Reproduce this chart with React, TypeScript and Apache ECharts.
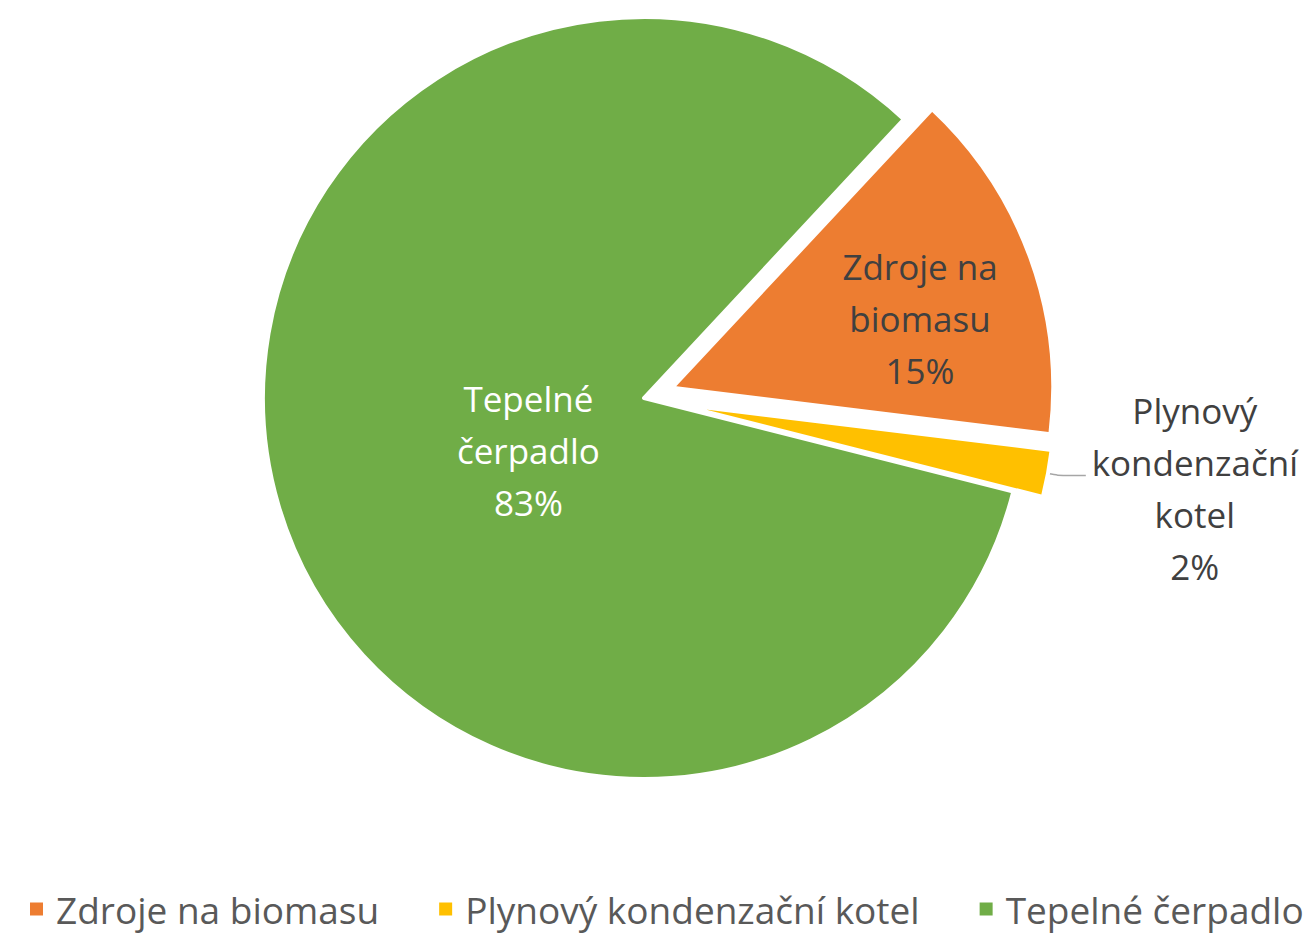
import React, { useEffect, useRef } from "react";
import * as echarts from "echarts";

const categories = ["Zdroje na biomasu", "Plynový kondenzační kotel", "Tepelné čerpadlo"];
const wrappedNames = ["Zdroje na\nbiomasu", "Plynový\nkondenzační\nkotel", "Tepelné\nčerpadlo"];
const values = [15, 2, 83];
const colors = ["#ED7D31", "#FFC000", "#70AD47"];
const exploded = [true, true, false];
const labelColors = ["#404040", "#404040", "#FFFFFF"];

export default function App() {
  const ref = useRef<HTMLDivElement>(null);
  useEffect(() => {
    if (!ref.current) return;
    const chart = echarts.init(ref.current, null, { renderer: "svg" });
    const font = "'Open Sans', sans-serif";
    chart.setOption({
      animation: false,
      backgroundColor: "#FFFFFF",
      legend: {
        data: categories,
        left: 28,
        width: 1282,
        top: 888,
        padding: 0,
        icon: "rect",
        itemWidth: 15,
        itemHeight: 15,
        itemGap: 58,
        selectedMode: false,
        textStyle: {
          fontFamily: font,
          fontSize: 37,
          color: "#595959",
          lineHeight: 42,
          padding: [0, 0, 0, 7],
        },
      },
      series: [
        {
          type: "pie",
          center: [644, 398],
          radius: 381,
          startAngle: 47,
          clockwise: true,
          selectedMode: "multiple",
          selectedOffset: 30,
          avoidLabelOverlap: false,
          emphasis: { disabled: true },
          itemStyle: { borderColor: "#FFFFFF", borderWidth: 4 },
          data: categories.map((name, i) => ({
            name,
            value: values[i],
            selected: exploded[i],
            itemStyle: { color: colors[i] },
            label: {
              position: i === 1 ? "outside" : "inside",
              color: labelColors[i],
            },
            labelLine: i === 1
              ? { show: true, length: 10, length2: 28, smooth: 0.3, lineStyle: { color: "#A6A6A6", width: 1.5 } }
              : { show: false },
          })),
          label: {
            show: true,
            fontFamily: font,
            fontSize: 35,
            lineHeight: 52,
            align: "center",
            formatter: (p: any) => wrappedNames[p.dataIndex] + "\n" + Math.round(p.percent) + "%",
          },
          labelLayout: (p: any) => {
            if (p.dataIndex === 0) return { dx: 66, dy: -3 };
            if (p.dataIndex === 2) return { dx: 70, dy: -2 };
            return { dx: 104, dy: 13, align: "center" };
          },
        },
      ],
    });
    return () => chart.dispose();
  }, []);
  return (
    <div
      ref={ref}
      style={{ position: "fixed", left: 0, top: 0, width: 1310, height: 940 }}
    />
  );
}
